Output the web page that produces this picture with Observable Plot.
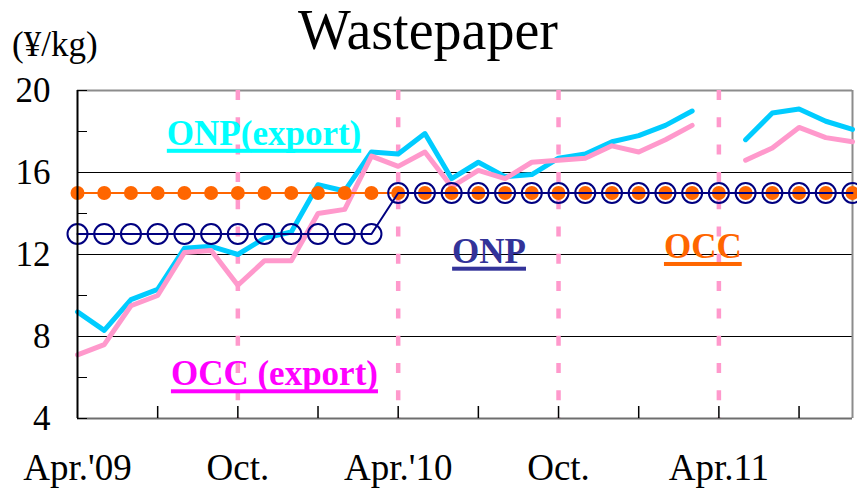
<!DOCTYPE html>
<html>
<head>
<meta charset="utf-8">
<script src="https://cdn.jsdelivr.net/npm/d3@7"></script>
<script src="https://cdn.jsdelivr.net/npm/@observablehq/plot@0.6"></script>
<style>
  body { margin: 0; background: #fff; }
  #chart { position: relative; width: 857px; height: 488px; font-family: "Liberation Serif", "Times New Roman", serif; }
  #title { position: absolute; left: 0; top: 0; width: 856px; text-align: center; font-size: 56px; line-height: 60px; color: #000; }
  #unit { position: absolute; left: 12px; top: 27px; font-size: 35px; line-height: 35px; color: #000; }
</style>
</head>
<body>
<div id="chart">
  <div id="title">Wastepaper</div>
  <div id="unit">(¥/kg)</div>
</div>
<script>
// Monthly wastepaper prices, yen per kg, April 2009 – September 2011
const months = [
  "2009-04","2009-05","2009-06","2009-07","2009-08","2009-09","2009-10","2009-11","2009-12",
  "2010-01","2010-02","2010-03","2010-04","2010-05","2010-06","2010-07","2010-08","2010-09",
  "2010-10","2010-11","2010-12","2011-01","2011-02","2011-03","2011-04","2011-05","2011-06",
  "2011-07","2011-08","2011-09"
];
// export prices (no figure for April 2011)
const onpExport = [9.2, 8.3, 9.8, 10.3, 12.3, 12.4, 12.0, 12.8, 13.1, 15.4, 15.1, 17.0, 16.9, 17.9, 15.7,
  16.5, 15.8, 15.9, 16.7, 16.9, 17.5, 17.8, 18.3, 19.0, null, 17.6, 18.9, 19.1, 18.5, 18.1];
const occExport = [7.1, 7.6, 9.5, 10.0, 12.1, 12.2, 10.5, 11.7, 11.7, 14.0, 14.2, 16.8, 16.3, 17.0, 15.3,
  16.1, 15.7, 16.5, 16.6, 16.7, 17.3, 17.0, 17.6, 18.3, null, 16.6, 17.2, 18.2, 17.7, 17.5];
// domestic prices
const onp = [13, 13, 13, 13, 13, 13, 13, 13, 13, 13, 13, 13, 15, 15, 15,
  15, 15, 15, 15, 15, 15, 15, 15, 15, 15, 15, 15, 15, 15, 15];
const occ = [15, 15, 15, 15, 15, 15, 15, 15, 15, 15, 15, 15, 15, 15, 15,
  15, 15, 15, 15, 15, 15, 15, 15, 15, 15, 15, 15, 15, 15, 15];

// axis labelling
const xTickMonths = ["2009-04", "2009-10", "2010-04", "2010-10", "2011-04"];
const xTickLabels = ["Apr.'09", "Oct.", "Apr.'10", "Oct.", "Apr.11"];
const xMinorMonths = ["2009-07", "2009-10", "2010-01", "2010-04", "2010-07", "2010-10", "2011-01", "2011-04", "2011-07"];
const yTicks = [4, 8, 12, 16, 20];
const yMinorTicks = [4, 6, 8, 10, 12, 14, 16, 18, 20];

// series names placed inside the plot: position (in months from April 2009) and price at the label's baseline
const noteText = ["ONP(export)", "OCC (export)", "ONP", "OCC"];
const notePos = [6.98, 7.37, 15.4, 23.4];
const notePrice = [17.35, 5.62, 11.6, 11.83];
const noteColor = ["#00FFFF", "#FF00FF", "#333399", "#FF6600"];

const idx = (m) => months.indexOf(m);
const rows = months.map((m, i) => ({
  i, m,
  onpExport: onpExport[i], occExport: occExport[i], onp: onp[i], occ: occ[i]
}));
const notes = noteText.map((t, k) => ({ text: t, i: notePos[k], v: notePrice[k], color: noteColor[k] }));

const serif = '"Liberation Serif", "Times New Roman", serif';
const xTickPos = xTickMonths.map(idx);
const dividers = xTickPos.slice(1);

const chart = Plot.plot({
  width: 857,
  height: 488,
  marginLeft: 77,
  marginRight: 5,
  marginTop: 90,
  marginBottom: 70,
  style: { fontFamily: serif, background: "transparent", color: "#000", overflow: "visible" },
  x: { domain: [0, months.length - 1] },
  y: { domain: [4, 20] },
  marks: [
    Plot.gridY([8, 12, 16], { stroke: "#000", strokeOpacity: 1, strokeWidth: 1 }),
    Plot.ruleY([20], { stroke: "#8c8c8c", strokeWidth: 2 }),
    Plot.ruleX([months.length - 1], { stroke: "#8c8c8c", strokeWidth: 2 }),
    Plot.ruleX(dividers, { stroke: "#FF99CC", strokeWidth: 4.5, strokeDasharray: "10,17.3" }),
    Plot.line(rows, { x: "i", y: "onpExport", stroke: "#00CCFF", strokeWidth: 5, strokeLinejoin: "round", strokeLinecap: "round" }),
    Plot.line(rows, { x: "i", y: "occExport", stroke: "#FF99CC", strokeWidth: 5, strokeLinejoin: "round", strokeLinecap: "round" }),
    Plot.line(rows, { x: "i", y: "occ", stroke: "#FF6600", strokeWidth: 2 }),
    Plot.dot(rows, { x: "i", y: "occ", r: 7, fill: "#FF6600", stroke: null }),
    Plot.line(rows, { x: "i", y: "onp", stroke: "#000080", strokeWidth: 2 }),
    Plot.dot(rows, { x: "i", y: "onp", r: 10, stroke: "#000080", strokeWidth: 2, fill: "none" }),
    Plot.ruleY([4], { stroke: "#6e6e6e", strokeWidth: 2 }),
    Plot.ruleX([0], { stroke: "#000", strokeWidth: 2 }),
    Plot.axisY({ ticks: yMinorTicks, tickSize: -10, tickFormat: () => "", label: null }),
    Plot.axisY({ ticks: yTicks, tickSize: 0, tickPadding: 27, fontSize: 35, label: null }),
    Plot.axisX({ ticks: xMinorMonths.map(idx), tickSize: -12, tickFormat: () => "", label: null, strokeWidth: 1.5 }),
    Plot.axisX({ ticks: xTickPos, tickSize: 0, tickPadding: 35, fontSize: 37, label: null,
      tickFormat: (d) => xTickLabels[xTickPos.indexOf(d)] }),
    ...notes.map((n) => Plot.text([n], {
      x: "i", y: "v", text: "text", fill: n.color, fontSize: 35, fontWeight: "bold",
      lineAnchor: "bottom", textAnchor: "middle"
    }))
  ]
});
chart.style.position = "absolute";
chart.style.left = "0";
chart.style.top = "0";
document.getElementById("chart").prepend(chart);

// underline each series name in its own colour
chart.querySelectorAll('g[aria-label="text"] text').forEach((t) => {
  const b = t.getBBox();
  const line = document.createElementNS("http://www.w3.org/2000/svg", "rect");
  line.setAttribute("x", b.x);
  line.setAttribute("y", b.y + b.height - 4);
  line.setAttribute("width", b.width);
  line.setAttribute("height", 4);
  line.setAttribute("fill", t.closest("g").getAttribute("fill") || t.getAttribute("fill"));
  const tr = t.getAttribute("transform");
  if (tr) line.setAttribute("transform", tr);
  t.parentNode.appendChild(line);
});
</script>
</body>
</html>
